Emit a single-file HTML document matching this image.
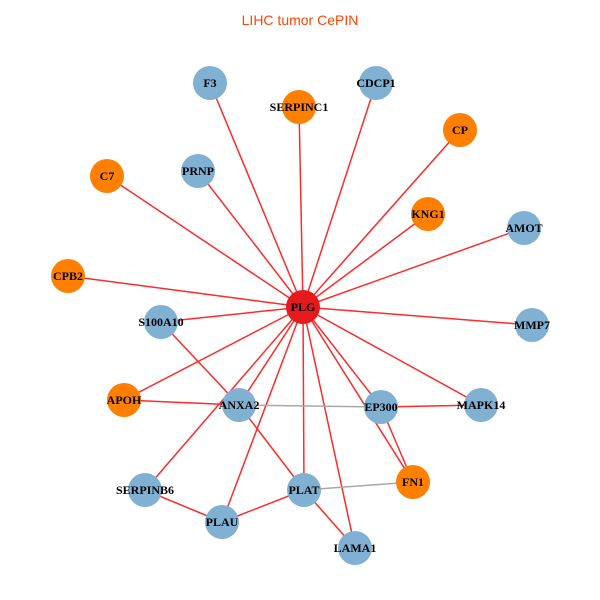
<!DOCTYPE html>
<html><head><style>body{margin:0;background:#fff}svg{display:block}</style></head><body>
<svg width="600" height="600" viewBox="0 0 600 600" xmlns="http://www.w3.org/2000/svg">
<rect width="600" height="600" fill="#fff"/>
<text x="300" y="25" text-anchor="middle" font-family="Liberation Sans, sans-serif" font-size="14" fill="#ff4500">LIHC tumor CePIN</text>
<g stroke="#ff2a2a" stroke-width="1.5">
<line x1="303" y1="307" x2="210" y2="83"/>
<line x1="303" y1="307" x2="299" y2="107"/>
<line x1="303" y1="307" x2="376" y2="83"/>
<line x1="303" y1="307" x2="460" y2="130"/>
<line x1="303" y1="307" x2="107" y2="176"/>
<line x1="303" y1="307" x2="198" y2="171"/>
<line x1="303" y1="307" x2="428" y2="214"/>
<line x1="303" y1="307" x2="524" y2="228"/>
<line x1="303" y1="307" x2="68" y2="276"/>
<line x1="303" y1="307" x2="161" y2="322"/>
<line x1="303" y1="307" x2="532" y2="325"/>
<line x1="303" y1="307" x2="124" y2="400"/>
<line x1="303" y1="307" x2="239" y2="405"/>
<line x1="303" y1="307" x2="381" y2="407"/>
<line x1="303" y1="307" x2="481" y2="405"/>
<line x1="303" y1="307" x2="413" y2="482"/>
<line x1="303" y1="307" x2="145" y2="490"/>
<line x1="303" y1="307" x2="304" y2="490"/>
<line x1="303" y1="307" x2="222" y2="522"/>
<line x1="303" y1="307" x2="355" y2="548"/>
<line x1="161" y1="322" x2="239" y2="405"/>
<line x1="124" y1="400" x2="239" y2="405"/>
<line x1="381" y1="407" x2="481" y2="405"/>
<line x1="381" y1="407" x2="413" y2="482"/>
<line x1="239" y1="405" x2="304" y2="490"/>
<line x1="304" y1="490" x2="355" y2="548"/>
<line x1="304" y1="490" x2="222" y2="522"/>
<line x1="145" y1="490" x2="222" y2="522"/>
</g>
<g stroke="#a8a8a8" stroke-width="1.5">
<line x1="239" y1="405" x2="381" y2="407"/>
<line x1="304" y1="490" x2="413" y2="482"/>
</g>
<g fill="#80b1d3">
<circle cx="210" cy="83" r="17"/><circle cx="376" cy="83" r="17"/><circle cx="198" cy="171" r="17"/>
<circle cx="524" cy="228" r="17"/><circle cx="161" cy="322" r="17"/><circle cx="532" cy="325" r="17"/>
<circle cx="239" cy="405" r="17"/><circle cx="381" cy="407" r="17"/><circle cx="481" cy="405" r="17"/>
<circle cx="145" cy="490" r="17"/><circle cx="304" cy="490" r="17"/><circle cx="222" cy="522" r="17"/>
<circle cx="355" cy="548" r="17"/>
</g>
<g fill="#ff7f00">
<circle cx="299" cy="107" r="17"/><circle cx="460" cy="130" r="17"/><circle cx="107" cy="176" r="17"/>
<circle cx="428" cy="214" r="17"/><circle cx="68" cy="276" r="17"/><circle cx="124" cy="400" r="17"/>
<circle cx="413" cy="482" r="17"/>
</g>
<circle cx="303" cy="307" r="17" fill="#e41a1c"/>
<g font-family="Liberation Serif, serif" font-weight="bold" font-size="12" text-anchor="middle" fill="#000">
<text x="210" y="87">F3</text><text x="299" y="111">SERPINC1</text><text x="376" y="87">CDCP1</text>
<text x="460" y="134">CP</text><text x="107" y="180">C7</text><text x="198" y="175">PRNP</text>
<text x="428" y="218">KNG1</text><text x="524" y="232">AMOT</text><text x="68" y="280">CPB2</text>
<text x="303" y="311">PLG</text><text x="161" y="326">S100A10</text><text x="532" y="329">MMP7</text>
<text x="124" y="404">APOH</text><text x="239" y="409">ANXA2</text><text x="381" y="411">EP300</text>
<text x="481" y="409">MAPK14</text><text x="413" y="486">FN1</text><text x="145" y="494">SERPINB6</text>
<text x="304" y="494">PLAT</text><text x="222" y="526">PLAU</text><text x="355" y="552">LAMA1</text>
</g>
</svg>
</body></html>
